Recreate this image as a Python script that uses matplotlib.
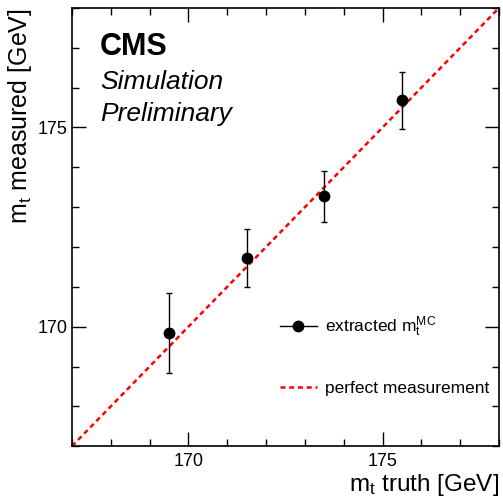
import matplotlib
matplotlib.use('Agg')
import matplotlib.pyplot as plt
from matplotlib.ticker import MultipleLocator
from matplotlib.lines import Line2D

plt.rcParams['font.family'] = ['Liberation Sans', 'DejaVu Sans']
plt.rcParams['mathtext.fontset'] = 'custom'
plt.rcParams['mathtext.rm'] = 'Liberation Sans'
plt.rcParams['mathtext.it'] = 'Liberation Sans:italic'
plt.rcParams['mathtext.bf'] = 'Liberation Sans:bold'

# data
m_truth = [169.5, 171.5, 173.5, 175.5]
m_measured = [169.84, 171.72, 173.28, 175.68]
m_err = [1.01, 0.73, 0.64, 0.72]
diag = [167, 178]

fig = plt.figure(figsize=(5.03, 4.98), dpi=100)
ax = fig.add_axes([0.143, 0.104, 0.849, 0.880])

diag_line, = ax.plot(diag, diag, color='#ff0000', linestyle=(0, (2.0, 1.5)),
                     linewidth=1.8, zorder=1)
ax.errorbar(m_truth, m_measured, yerr=m_err, fmt='o', color='black',
            markersize=7.5, elinewidth=1.0, capsize=2.5, capthick=1.0,
            zorder=3)

ax.set_xlim(167, 178)
ax.set_ylim(167, 178)
ax.xaxis.set_major_locator(MultipleLocator(5))
ax.xaxis.set_minor_locator(MultipleLocator(1))
ax.yaxis.set_major_locator(MultipleLocator(5))
ax.yaxis.set_minor_locator(MultipleLocator(1))
ax.tick_params(which='both', direction='in', top=True, right=True, width=1.0,
               labelsize=13)
ax.tick_params(axis='x', pad=5)
ax.tick_params(axis='y', pad=3)
ax.tick_params(which='major', length=10)
ax.tick_params(which='minor', length=5)
for k, v in ax.spines.items():
    v.set_linewidth(1.2)

ax.set_xlabel(r'$\mathrm{m_{t}}$ truth [GeV]', fontsize=17.5, loc='right', labelpad=1)
ax.set_ylabel(r'$\mathrm{m_{t}}$ measured [GeV]', fontsize=18, loc='top', labelpad=3)

ax.text(0.066, 0.912, 'CMS', transform=ax.transAxes, fontsize=22,
        fontweight='bold', va='center', ha='left')
ax.text(0.066, 0.832, 'Simulation', transform=ax.transAxes, fontsize=19,
        style='italic', va='center', ha='left')
ax.text(0.066, 0.758, 'Preliminary', transform=ax.transAxes, fontsize=19,
        style='italic', va='center', ha='left')

marker_handle = Line2D([], [], color='black', marker='o', markersize=7.5,
                       linewidth=1.0)
ax.legend([marker_handle, diag_line],
          [r'extracted $\mathrm{m_{t}^{MC}}$', 'perfect measurement'],
          loc='center left', bbox_to_anchor=(0.45, 0.208), frameon=False,
          fontsize=12.5, handlelength=2.13, handletextpad=0.46,
          labelspacing=2.4)

fig.savefig('out.png', dpi=100)
